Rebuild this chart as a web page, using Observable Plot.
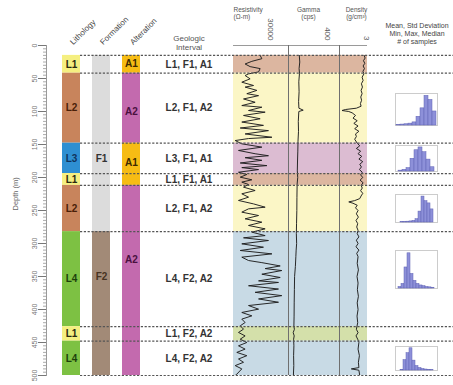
<!DOCTYPE html>
<html><head><meta charset="utf-8">
<script src="https://cdn.jsdelivr.net/npm/d3@7"></script>
<script src="https://cdn.jsdelivr.net/npm/@observablehq/plot@0.6"></script>
<style>
html,body{margin:0;padding:0;background:#fff;}
#chart{position:relative;width:453px;height:385px;overflow:hidden;}
</style></head><body><div id="chart"></div>
<script>
// ---------------- data ----------------
const depthTicks = [0, 50, 100, 150, 200, 250, 300, 350, 400, 450, 500];
const columnNames = ["Lithology", "Formation", "Alteration"];

const intervalTop = [15, 42, 148, 194, 212, 282, 426, 448];
const intervalBase = [42, 148, 194, 212, 282, 426, 448, 500];
const intervalLabel = ["L1, F1, A1", "L2, F1, A2", "L3, F1, A1", "L1, F1, A1", "L2, F1, A2", "L4, F2, A2", "L1, F2, A2", "L4, F2, A2"];
const lithology = ["L1", "L2", "L3", "L1", "L2", "L4", "L1", "L4"];

const formationName = ["F1", "F2"];
const formationTop = [15, 282];
const formationBase = [282, 500];
const formationLabelDepth = [172, 350];

const alterationName = ["A1", "A2", "A1", "A2"];
const alterationTop = [15, 42, 148, 212];
const alterationBase = [42, 148, 212, 500];
const alterationLabelDepth = [28, 100, 178, 324];

const resDepth = [15,20,24,28,32,35,40,43,45.5,50.5,55.6,60.6,63,68,73,76,81,86,91,93.5,98.5,101,106,111,116,121,125,129,134,139,141,144,149,154,159,164,
  167,170,174,178,182,185,188,192,195.5,199.5,203.5,207,210.6,214.6,219.7,224.7,229.8,234.8,240,245,247.5,252.5,257.6,262.6,267.7,272.7,277.8,282.8,288,291.4,295.5,300.5,305.6,310.6,315.7,320.7,325.8,
  329,334,338,341,346.5,351.5,356.6,359,364,369,374,379,384,389,394,399.5,404.5,409.6,414.6,419.7,424.7,429.8,434.8,440,445,450,455,460,465,470,475,480,485,490,498,500];
const resValue = [21800,23200,15000,9500,13600,21800,20500,12300,9500,13600,6800,16400,9500,19100,10900,20500,8200,17700,6800,23200,12300,25900,8200,21800,6800,24500,5500,28600,9500,31400,12300,1400,6800,23200,4100,17700,
  28600,9500,23200,5500,27300,6800,20500,4100,10900,5500,15000,6800,12300,8200,17700,6800,12300,4100,16400,25900,12300,6800,20500,9500,23200,12300,25900,15000,25900,8200,28600,6800,24500,5500,31400,6800,12300,
  23200,38200,25900,39500,23200,38200,20500,36800,12300,36800,17700,39500,20500,36800,12300,20500,6800,15000,6800,9500,5500,8200,4100,9500,5500,10900,4100,9500,2700,10900,4100,8200,1400,6800,2700,1400];

const gammaDepth = [15,25,35,42,55,70,85,95,98,100,115,130,145,160,175,190,200,210,230,250,270,285,300,310,320,335,350,370,390,410,425,430,435,440,445,455,470,485,500];
const gammaValue = [110,115,108,112,105,108,103,106,150,105,100,102,97,95,92,90,94,88,86,85,82,80,83,78,75,70,62,60,58,57,55,60,48,58,52,55,52,54,50];

const densDepth = [15,19,23,27,31,35,39,43,48,53,58,63,68,73,78,83,88,92,95,97,98.5,100,102,106,110,114,118,122,126,130,134,138,142,
  148,152,156,160,164,168,172,176,180,184,188,192,196,200,204,208,212,216,220,224,228,232,235,237,239,242,246,250,255,260,265,270,275,280,
  285,290,295,300,305,310,315,320,330,340,350,360,370,380,390,400,410,420,430,435,440,445,450,460,470,480,488,490,492,500];
const densValue = [2.86,2.92,2.82,2.90,2.80,2.88,2.79,2.85,2.74,2.80,2.70,2.76,2.68,2.74,2.66,2.71,2.64,2.68,2.40,1.75,1.55,1.95,2.15,2.35,2.20,2.45,2.25,2.50,2.30,2.55,2.35,2.40,2.30,
  2.45,2.60,2.40,2.65,2.50,2.72,2.55,2.78,2.60,2.70,2.58,2.75,2.65,2.78,2.62,2.80,2.68,2.75,2.65,2.78,2.68,2.60,2.30,1.95,2.20,2.45,2.35,2.50,2.40,2.52,2.38,2.48,2.42,2.50,
  2.45,2.55,2.40,2.50,2.38,2.55,2.42,2.50,2.45,2.52,2.44,2.50,2.46,2.52,2.45,2.50,2.44,2.48,2.40,2.50,2.38,2.48,2.55,2.50,2.58,2.52,2.55,2.10,2.55,2.60];

const hist1 = [2, 3, 4, 6, 10, 28, 55, 95, 82, 45];
const hist2 = [3, 6, 12, 45, 75, 85, 68, 42, 15];
const hist3 = [2, 2, 3, 4, 6, 12, 40, 95, 78, 70, 48];
const hist4 = [4, 12, 55, 92, 38, 20, 12, 8, 6, 4, 3, 2];
const hist5 = [3, 42, 70, 90, 40, 18, 10, 6, 4, 3, 2];

// ---------------- styles ----------------
const FONT = "'Liberation Sans', Arial, sans-serif";
const lithFill = {L1: "#f5ef80", L2: "#c8845c", L3: "#2e8fd2", L4: "#7dc143"};
const lithInk = {L1: "#2a2a10", L2: "#4a2008", L3: "#10345e", L4: "#1c3f0c"};
const formFill = {F1: "#dcdcdc", F2: "#a28a77"};
const formInk = {F1: "#333333", F2: "#473322"};
const altFill = {A1: "#f6bc14", A2: "#c36aae"};
const altInk = {A1: "#3d2a00", A2: "#4a1140"};
const shadeFill = {"L1, F1, A1": "#dcb6a0", "L2, F1, A2": "#fbf6c6", "L3, F1, A1": "#dcbcd2", "L4, F2, A2": "#c8dae5", "L1, F2, A2": "#d4e0aa"};

// ---------------- tables ----------------
const intervals = intervalTop.map((t, i) => ({top: t, base: intervalBase[i], label: intervalLabel[i], lith: lithology[i]}));
const columnSegs = [
  ...intervals.map(d => ({col: "Lithology", top: d.top, base: d.base, name: d.lith, at: (d.top + d.base) / 2, fill: lithFill[d.lith], ink: lithInk[d.lith]})),
  ...formationName.map((n, i) => ({col: "Formation", top: formationTop[i], base: formationBase[i], name: n, at: formationLabelDepth[i], fill: formFill[n], ink: formInk[n]})),
  ...alterationName.map((n, i) => ({col: "Alteration", top: alterationTop[i], base: alterationBase[i], name: n, at: alterationLabelDepth[i], fill: altFill[n], ink: altInk[n]}))
];
const boundaries = Array.from(new Set([...intervalTop, ...intervalBase]));
const resistivity = resDepth.map((d, i) => ({d, v: resValue[i]}));
const gamma = gammaDepth.map((d, i) => ({d, v: gammaValue[i]}));
const density = densDepth.map((d, i) => ({d, v: densValue[i]}));

// ---------------- layout ----------------
const chart = document.getElementById("chart");
function place(el, left, top = 0) {
  el.style.position = "absolute";
  el.style.left = left + "px";
  el.style.top = top + "px";
  el.style.overflow = "visible";
  chart.appendChild(el);
}
function depthPlot(opts) {
  return Plot.plot({
    height: 385, marginTop: 45, marginBottom: 10,
    y: {domain: [0, 500], reverse: true, axis: null},
    color: {type: "identity"},
    style: {background: "transparent", fontFamily: FONT, overflow: "visible"},
    ...opts
  });
}

// Track shading + curves
function track(left, width, domain, tick, data, headerText, headerOpts, boundary) {
  const marks = [
    Plot.rect(intervals, {y1: "top", y2: "base", fill: d => shadeFill[d.label]}),
    Plot.ruleY([0], {stroke: "#9a9a9a"}),
    Plot.line(data, {x: "v", y: "d", stroke: "#1e1e1e", strokeWidth: 0.95, clip: true}),
    Plot.axisX({anchor: "top", ticks: [tick], tickFormat: "d", tickSize: 0, tickRotate: 90, tickPadding: 5, fontSize: 8, color: "#555", label: null}),
    Plot.text([headerText], {frameAnchor: "top-left", lineAnchor: "top", fontSize: 6.5, fill: "#555", lineHeight: 1.1, ...headerOpts})
  ];
  if (boundary) marks.push(Plot.ruleX([domain[0]], {stroke: "#6f6f6f"}));
  place(depthPlot({width, marginLeft: 0, marginRight: 0, x: {domain, axis: null}, marks}), left);
}
track(233, 55, [0, 45000], 30000, resistivity, "Resistivity\n(Ω-m)", {textAnchor: "start", dx: 0, dy: -39}, false);
track(288, 51, [0, 520], 400, gamma, "Gamma\n(cps)", {textAnchor: "middle", dx: 20, dy: -39}, true);
track(339, 28, [1.4, 3.06], 3, density, "Density\n(g/cm³)", {textAnchor: "middle", dx: 17, dy: -39}, true);

// Columns + depth axis
place(depthPlot({
  width: 145, marginLeft: 46, marginRight: 5,
  x: {type: "band", domain: columnNames, range: [62, 140], paddingInner: 0.4, paddingOuter: 0, axis: null},
  marks: [
    Plot.axisY({ticks: d3.range(0, 501, 5), tickSize: 3, tickFormat: () => "", stroke: "#aaa", label: null}),
    Plot.axisY({ticks: depthTicks, tickSize: 8, tickRotate: -90, tickPadding: 2, tickFormat: "d", fontSize: 7, color: "#777", label: null}),
    Plot.frame({anchor: "left", stroke: "#999"}),
    Plot.text(["Depth (m)"], {frameAnchor: "left", dx: -31, rotate: -90, fontSize: 7.5, fill: "#666"}),
    Plot.axisX({anchor: "top", tickSize: 0, tickRotate: -45, tickPadding: 2, fontSize: 8, color: "#444", label: null}),
    Plot.barY(columnSegs, {x: "col", y1: "top", y2: "base", fill: "fill"}),
    Plot.text(columnSegs, {x: "col", y: "at", text: "name", fill: "ink", fontWeight: "bold", fontSize: 10})
  ]
}), 0);

// Geologic interval labels
place(depthPlot({
  width: 87, marginLeft: 0, marginRight: 0,
  x: {axis: null},
  marks: [
    Plot.text(intervals, {y: d => (d.top + d.base) / 2, text: "label", frameAnchor: "middle", fontWeight: "bold", fontSize: 10, fill: "#333"}),
    Plot.text(["Geologic\nInterval"], {frameAnchor: "top", lineAnchor: "middle", dy: -2.5, fontSize: 8, lineHeight: 1.125, fill: "#555"})
  ]
}), 145);

// Dashed interval boundaries
const overlay = depthPlot({
  width: 453, marginLeft: 80, marginRight: 0,
  x: {axis: null},
  marks: [Plot.ruleY(boundaries, {stroke: "#555", strokeDasharray: "2.2,1.6", strokeWidth: 1.2})]
});
overlay.style.pointerEvents = "none";
place(overlay, 0);

// Histogram header
place(Plot.plot({
  width: 73, height: 60, margin: 0,
  style: {background: "transparent", fontFamily: FONT, overflow: "visible"},
  marks: [Plot.text(["Mean, Std Deviation\nMin, Max, Median\n# of samples"], {frameAnchor: "top", lineAnchor: "top", dy: 22, fontSize: 7, lineHeight: 1.15, fill: "#444"})]
}), 380, 0);

// Histograms
const hists = [hist1, hist2, hist3, hist4, hist5];
const histBoxes = [[395, 93, 42, 32], [395, 145, 42, 26], [395, 194, 42, 28], [395, 250, 42, 38], [395, 346, 42, 24]];
hists.forEach((counts, k) => {
  const [left, top, w, h] = histBoxes[k];
  place(Plot.plot({
    width: w + 2, height: h + 2, margin: 1,
    style: {background: "transparent", overflow: "visible"},
    x: {type: "band", domain: d3.range(counts.length), padding: 0, axis: null},
    y: {domain: [0, d3.max(counts) * 1.08], axis: null},
    marks: [
      Plot.frame({stroke: "#cccccc"}),
      Plot.barY(counts.map((c, i) => ({i, c})), {x: "i", y: "c", fill: "#8d90d9", stroke: "#6063b5", strokeWidth: 0.5})
    ]
  }), left - 1, top - 1);
});
</script></body></html>
